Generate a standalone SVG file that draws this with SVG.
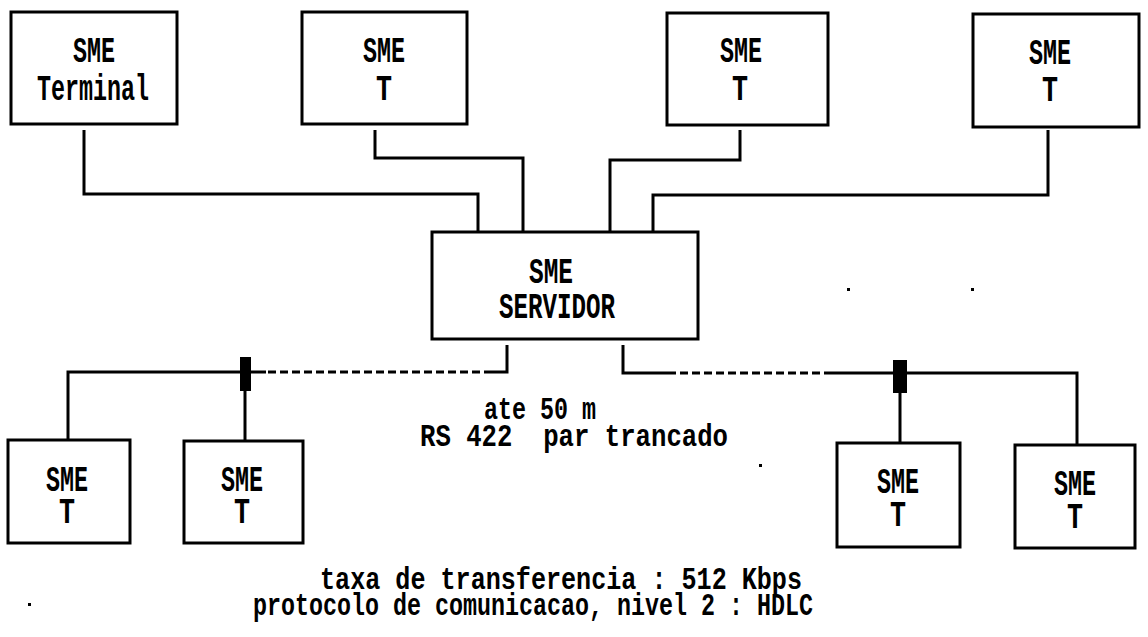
<svg xmlns="http://www.w3.org/2000/svg" width="1148" height="637" viewBox="0 0 1148 637">
<style>
.bg{fill:#fff}
.box{fill:#fff;stroke:#000;stroke-width:3}
.wire{fill:none;stroke:#000;stroke-width:3}
.dash{fill:none;stroke:#000;stroke-width:3;stroke-dasharray:8 4}
.blk{fill:#000}
.lbl{font-family:"Liberation Mono","Courier New",monospace;font-weight:bold;font-size:37px;fill:#000;text-anchor:middle;white-space:pre}
.note{font-family:"Liberation Mono","Courier New",monospace;font-weight:bold;font-size:31px;fill:#000;text-anchor:start;white-space:pre}
</style>
<rect class="bg" x="0" y="0" width="1148" height="637"/>

<g id="connectors">
  <path class="wire" d="M84,130 V194 H478 V232"/>
  <path class="wire" d="M375,130 V158 H523 V232"/>
  <path class="wire" d="M740,130 V160 H610 V232"/>
  <path class="wire" d="M1048,130 V195 H653 V232"/>
  <path class="wire" d="M507,345 V372 H492"/>
  <path class="dash" d="M492,372 H266"/>
  <path class="wire" d="M266,372 H68 V440"/>
  <path class="wire" d="M245,391 V441"/>
  <rect class="blk" x="240" y="357" width="11" height="34"/>
  <path class="wire" d="M623,345 V373 H668"/>
  <path class="dash" d="M668,373 H832"/>
  <path class="wire" d="M832,373 H1077 V445"/>
  <path class="wire" d="M900,393 V443"/>
  <rect class="blk" x="893" y="360" width="14" height="33"/>
</g>

<g id="node-terminal">
  <rect class="box" x="11" y="12" width="166" height="112"/>
  <text class="lbl" x="94" y="62" textLength="42" lengthAdjust="spacingAndGlyphs">SME</text>
  <text class="lbl" x="93" y="100" textLength="112" lengthAdjust="spacingAndGlyphs">Terminal</text>
</g>
<g id="node-t1">
  <rect class="box" x="302" y="12" width="165" height="112"/>
  <text class="lbl" x="384" y="62" textLength="42" lengthAdjust="spacingAndGlyphs">SME</text>
  <text class="lbl" x="384" y="100" textLength="16" lengthAdjust="spacingAndGlyphs">T</text>
</g>
<g id="node-t2">
  <rect class="box" x="667" y="13" width="161" height="112"/>
  <text class="lbl" x="741" y="62" textLength="42" lengthAdjust="spacingAndGlyphs">SME</text>
  <text class="lbl" x="740" y="100" textLength="16" lengthAdjust="spacingAndGlyphs">T</text>
</g>
<g id="node-t3">
  <rect class="box" x="973" y="14" width="166" height="113"/>
  <text class="lbl" x="1050" y="64" textLength="42" lengthAdjust="spacingAndGlyphs">SME</text>
  <text class="lbl" x="1050" y="101" textLength="16" lengthAdjust="spacingAndGlyphs">T</text>
</g>
<g id="node-servidor">
  <rect class="box" x="432" y="232" width="266" height="107"/>
  <text class="lbl" x="551" y="283" textLength="44" lengthAdjust="spacingAndGlyphs">SME</text>
  <text class="lbl" x="557" y="318" textLength="116" lengthAdjust="spacingAndGlyphs">SERVIDOR</text>
</g>
<g id="node-t4">
  <rect class="box" x="8" y="440" width="122" height="103"/>
  <text class="lbl" x="67" y="491" textLength="42" lengthAdjust="spacingAndGlyphs">SME</text>
  <text class="lbl" x="67" y="523" textLength="16" lengthAdjust="spacingAndGlyphs">T</text>
</g>
<g id="node-t5">
  <rect class="box" x="184" y="441" width="119" height="102"/>
  <text class="lbl" x="242" y="491" textLength="42" lengthAdjust="spacingAndGlyphs">SME</text>
  <text class="lbl" x="242" y="523" textLength="16" lengthAdjust="spacingAndGlyphs">T</text>
</g>
<g id="node-t6">
  <rect class="box" x="837" y="443" width="123" height="104"/>
  <text class="lbl" x="898" y="493" textLength="42" lengthAdjust="spacingAndGlyphs">SME</text>
  <text class="lbl" x="898" y="526" textLength="16" lengthAdjust="spacingAndGlyphs">T</text>
</g>
<g id="node-t7">
  <rect class="box" x="1015" y="445" width="120" height="103"/>
  <text class="lbl" x="1075" y="495" textLength="42" lengthAdjust="spacingAndGlyphs">SME</text>
  <text class="lbl" x="1075" y="528" textLength="16" lengthAdjust="spacingAndGlyphs">T</text>
</g>

<g id="notes">
  <text class="note" x="484" y="419" textLength="112" lengthAdjust="spacingAndGlyphs">ate 50 m</text>
  <text class="note" x="420" y="446" textLength="308" lengthAdjust="spacingAndGlyphs">RS 422  par trancado</text>
  <text class="note" x="320" y="589" textLength="482" lengthAdjust="spacingAndGlyphs">taxa de transferencia : 512 Kbps</text>
  <text class="note" x="253" y="615" textLength="560" lengthAdjust="spacingAndGlyphs">protocolo de comunicacao, nivel 2 : HDLC</text>
</g>

<g id="specks" class="blk">
  <rect x="847" y="288" width="3" height="3"/>
  <rect x="971" y="288" width="3" height="3"/>
  <rect x="759" y="464" width="3" height="3"/>
  <rect x="28" y="603" width="3" height="3"/>
</g>
</svg>
